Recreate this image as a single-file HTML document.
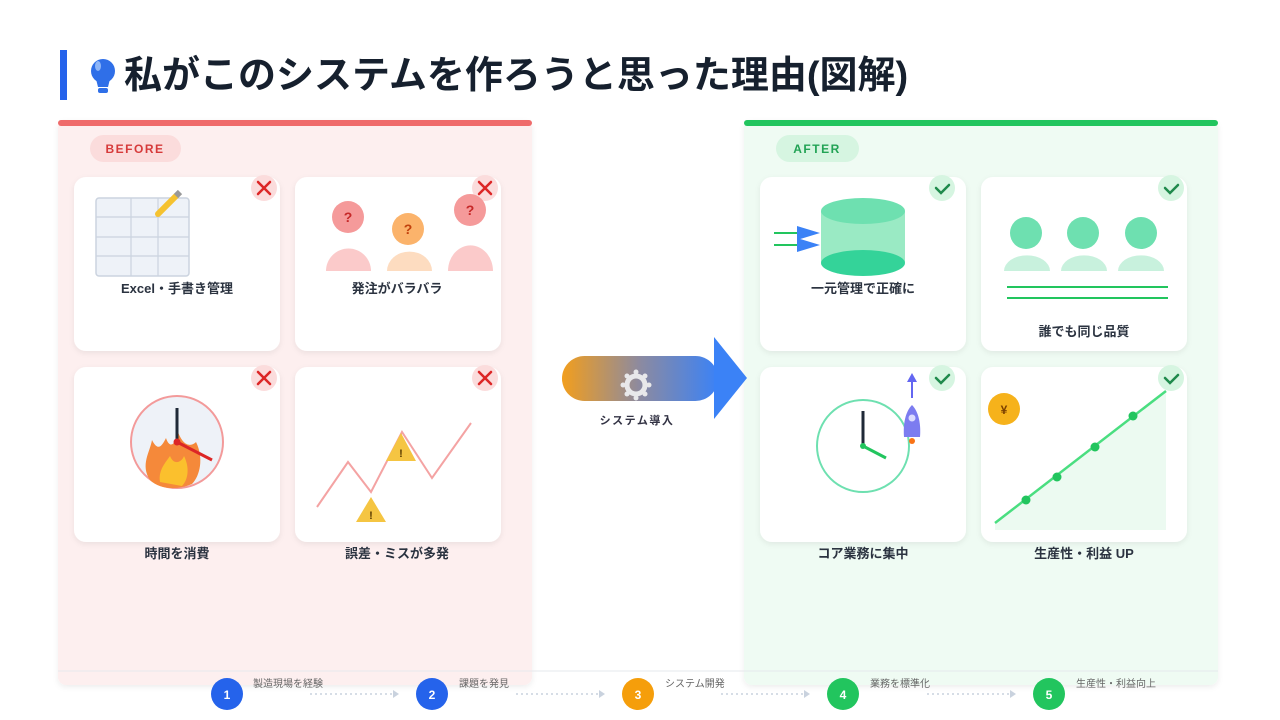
<!DOCTYPE html>
<html><head><meta charset="utf-8"><style>
html,body{margin:0;padding:0;background:#fff;}
svg{display:block;font-family:"Liberation Sans","Noto Sans CJK JP",sans-serif;}
</style></head><body>
<svg width="1280" height="720" viewBox="0 0 1280 720">
<defs>
<linearGradient id="g" x1="0" x2="1"><stop offset="0" stop-color="#f29e1d"/><stop offset="0.5" stop-color="#8c8aa0"/><stop offset="1" stop-color="#3b82f6"/></linearGradient>
<filter id="sh" x="-10%" y="-10%" width="120%" height="130%"><feDropShadow dx="0" dy="2" stdDeviation="3" flood-color="#000" flood-opacity="0.07"/></filter>
</defs>
<rect width="1280" height="720" fill="#fff"/>
<!-- title -->
<rect x="60" y="50" width="7" height="50" fill="#2563eb"/>
<circle cx="103" cy="71" r="12" fill="#2f6fe8"/>
<path d="M96 79 L110 79 L108 87 L98 87 Z" fill="#2f6fe8"/>
<rect x="98" y="88" width="10" height="5" rx="2" fill="#2f6fe8"/>
<ellipse cx="98" cy="66" rx="3" ry="5" fill="#8fb6f7"/>
<text x="124" y="88" font-size="38" font-weight="bold" fill="#16202e">私がこのシステムを作ろうと思った理由(図解)</text>

<!-- BEFORE panel -->
<rect x="58" y="120" width="474" height="565" rx="8" fill="#fdefef" filter="url(#sh)"/>
<rect x="58" y="120" width="474" height="6" rx="3" fill="#ef6b6b"/>
<rect x="90" y="135" width="91" height="27" rx="13.5" fill="#fbdcdc"/>
<text x="135" y="153" font-size="12" font-weight="bold" fill="#d63a3a" text-anchor="middle" letter-spacing="1.5">BEFORE</text>
<g filter="url(#sh)">
<rect x="74" y="177" width="206" height="174" rx="12" fill="#fff"/>
<rect x="295" y="177" width="206" height="174" rx="12" fill="#fff"/>
<rect x="74" y="367" width="206" height="175" rx="12" fill="#fff"/>
<rect x="295" y="367" width="206" height="175" rx="12" fill="#fff"/>
</g>
<g>
<circle cx="264" cy="188" r="13" fill="#fbdcdc"/><circle cx="485" cy="188" r="13" fill="#fbdcdc"/>
<circle cx="264" cy="378" r="13" fill="#fbdcdc"/><circle cx="485" cy="378" r="13" fill="#fbdcdc"/>
</g>
<g stroke="#dc2626" stroke-width="2.5" stroke-linecap="round">
<path d="M258 182l12 12M270 182l-12 12"/><path d="M479 182l12 12M491 182l-12 12"/>
<path d="M258 372l12 12M270 372l-12 12"/><path d="M479 372l12 12M491 372l-12 12"/>
</g>
<!-- spreadsheet -->
<rect x="96" y="198" width="93" height="78" rx="3" fill="#eef2f8" stroke="#cbd3df" stroke-width="1.5"/>
<g stroke="#cbd3df" stroke-width="1.2"><path d="M96 217H189M96 237H189M96 256H189M131 198V276M158 198V276"/></g>
<path d="M158 214 L176 196" stroke="#f5c230" stroke-width="6" stroke-linecap="round"/>
<path d="M176 196 L180 192" stroke="#999" stroke-width="6"/>
<text x="177" y="293" font-size="13" font-weight="bold" fill="#2b3340" text-anchor="middle">Excel・手書き管理</text>
<!-- people -->
<g>
<path d="M326 271 A22 22 0 0 1 371 271 Z" fill="#fbcaca"/>
<path d="M387 271 A22 19 0 0 1 432 271 Z" fill="#fddcc0"/>
<path d="M448 271 A22 25 0 0 1 493 271 Z" fill="#fbcaca"/>
<circle cx="348" cy="217" r="16" fill="#f59a9a"/><circle cx="408" cy="229" r="16" fill="#fbb36b"/><circle cx="470" cy="210" r="16" fill="#f59a9a"/>
<g font-size="14" font-weight="bold" fill="#c2410c" text-anchor="middle"><text x="348" y="222" fill="#c62828">?</text><text x="408" y="234">?</text><text x="470" y="215" fill="#c62828">?</text></g>
</g>
<text x="397" y="293" font-size="13" font-weight="bold" fill="#2b3340" text-anchor="middle">発注がバラバラ</text>
<!-- clock fire -->
<circle cx="177" cy="442" r="46" fill="#eef2f8" stroke="#f39a9a" stroke-width="2"/>
<path d="M150 480 C140 465 150 452 152 440 C158 452 162 446 166 438 C170 450 176 444 178 432 C184 448 192 446 196 442 C204 458 200 476 192 484 C178 490 160 490 150 480Z" fill="#f5893a"/>
<path d="M160 482 C158 470 166 462 170 456 C174 466 182 462 184 456 C190 468 188 480 182 486 Z" fill="#fbc02d"/>
<path d="M177 408 V442" stroke="#1f2937" stroke-width="3"/>
<path d="M177 442 L212 460" stroke="#dc2626" stroke-width="3"/>
<circle cx="177" cy="442" r="3.5" fill="#dc2626"/>
<text x="177" y="558" font-size="13" font-weight="bold" fill="#2b3340" text-anchor="middle">時間を消費</text>
<!-- zigzag -->
<polyline points="317,507 348,462 371,492 402,432 432,478 471,423" fill="none" stroke="#f4a3a3" stroke-width="2"/>
<path d="M401 433 L416 461 L386 461 Z" fill="#f5c542"/><text x="401" y="457" font-size="11" font-weight="bold" fill="#5a3b00" text-anchor="middle">!</text>
<path d="M371 497 L386 522 L356 522 Z" fill="#f5c542"/><text x="371" y="519" font-size="11" font-weight="bold" fill="#5a3b00" text-anchor="middle">!</text>
<text x="397" y="558" font-size="13" font-weight="bold" fill="#2b3340" text-anchor="middle">誤差・ミスが多発</text>

<!-- AFTER panel -->
<rect x="744" y="120" width="474" height="565" rx="8" fill="#effbf3" filter="url(#sh)"/>
<rect x="744" y="120" width="474" height="6" rx="3" fill="#22c55e"/>
<rect x="776" y="135" width="83" height="27" rx="13.5" fill="#d6f5e1"/>
<text x="817" y="153" font-size="12" font-weight="bold" fill="#22a355" text-anchor="middle" letter-spacing="1.5">AFTER</text>
<g filter="url(#sh)">
<rect x="760" y="177" width="206" height="174" rx="12" fill="#fff"/>
<rect x="981" y="177" width="206" height="174" rx="12" fill="#fff"/>
<rect x="760" y="367" width="206" height="175" rx="12" fill="#fff"/>
<rect x="981" y="367" width="206" height="175" rx="12" fill="#fff"/>
</g>
<g fill="#d6f5e1"><circle cx="942" cy="188" r="13"/><circle cx="1171" cy="188" r="13"/><circle cx="942" cy="378" r="13"/><circle cx="1171" cy="378" r="13"/></g>
<g stroke="#1f8a4c" stroke-width="2.5" fill="none" stroke-linecap="round"><path d="M936 188l5 5 8-8"/><path d="M1165 188l5 5 8-8"/><path d="M936 378l5 5 8-8"/><path d="M1165 378l5 5 8-8"/></g>
<!-- db -->
<rect x="821" y="211" width="84" height="52" fill="#9aeac4"/>
<ellipse cx="863" cy="263" rx="42" ry="13" fill="#34d399"/>
<ellipse cx="863" cy="211" rx="42" ry="13" fill="#6ee0b0"/>
<path d="M774 233H800M774 245H800" stroke="#22c55e" stroke-width="2"/>
<path d="M797 226L820 233L797 240Z M797 238L820 245L797 252Z" fill="#3b82f6"/>
<text x="863" y="293" font-size="13" font-weight="bold" fill="#2b3340" text-anchor="middle">一元管理で正確に</text>
<!-- people green -->
<g fill="#6ee0b0"><circle cx="1026" cy="233" r="16"/><circle cx="1083" cy="233" r="16"/><circle cx="1141" cy="233" r="16"/></g>
<g fill="#c8f1dd"><path d="M1004 271 A22 15 0 0 1 1050 271Z"/><path d="M1061 271 A22 15 0 0 1 1107 271Z"/><path d="M1118 271 A22 15 0 0 1 1164 271Z"/></g>
<path d="M1007 287H1168M1007 298H1168" stroke="#22c55e" stroke-width="2"/>
<text x="1084" y="336" font-size="13" font-weight="bold" fill="#2b3340" text-anchor="middle">誰でも同じ品質</text>
<!-- clock green + rocket -->
<circle cx="863" cy="446" r="46" fill="#fff" stroke="#6ee0b0" stroke-width="2"/>
<path d="M863 411V446" stroke="#1f2937" stroke-width="3"/>
<path d="M863 446L886 458" stroke="#22c55e" stroke-width="3"/>
<circle cx="863" cy="446" r="3" fill="#22c55e"/>
<path d="M912 398V378" stroke="#6366f1" stroke-width="2"/><path d="M907 382L912 373L917 382Z" fill="#6366f1"/>
<path d="M912 405 C905 412 903 425 904 437 L920 437 C921 425 919 412 912 405Z" fill="#7c7cf0"/>
<circle cx="912" cy="418" r="3.5" fill="#dcdcff"/><circle cx="912" cy="441" r="3" fill="#f97316"/>
<text x="863" y="558" font-size="13" font-weight="bold" fill="#2b3340" text-anchor="middle">コア業務に集中</text>
<!-- chart -->
<path d="M995 523 L1166 391 V530 H995Z" fill="#ecfaf1"/>
<path d="M995 523 L1166 391" stroke="#4ade80" stroke-width="2.5"/>
<g fill="#22c55e"><circle cx="1026" cy="500" r="4.5"/><circle cx="1057" cy="477" r="4.5"/><circle cx="1095" cy="447" r="4.5"/><circle cx="1133" cy="416" r="4.5"/></g>
<circle cx="1004" cy="409" r="16" fill="#f6b21b"/><text x="1004" y="414" font-size="12" font-weight="bold" fill="#7a3f00" text-anchor="middle">¥</text>
<text x="1084" y="558" font-size="13" font-weight="bold" fill="#2b3340" text-anchor="middle">生産性・利益 UP</text>

<!-- middle arrow -->
<rect x="562" y="356" width="156" height="45" rx="22.5" fill="url(#g)"/>
<path d="M714 337 L747 378 L714 419Z" fill="#3b82f6"/>
<circle cx="636" cy="385" r="9" fill="none" stroke="#e8e8ea" stroke-width="5"/>
<g fill="#e8e8ea"><circle cx="636" cy="372" r="2.5"/><circle cx="636" cy="398" r="2.5"/><circle cx="623" cy="385" r="2.5"/><circle cx="649" cy="385" r="2.5"/><circle cx="627" cy="376" r="2.5"/><circle cx="645" cy="394" r="2.5"/><circle cx="645" cy="376" r="2.5"/><circle cx="627" cy="394" r="2.5"/></g>
<text x="637" y="424" font-size="11" font-weight="bold" fill="#334" text-anchor="middle" letter-spacing="1.5">システム導入</text>

<!-- timeline -->
<path d="M58 671H1218" stroke="#e6e8ec" stroke-width="1"/>
<g stroke="#c9d2de" stroke-width="1.5" stroke-dasharray="2 3"><path d="M310 694H392M516 694H598M721 694H803M927 694H1009"/></g>
<g fill="#c9d2de"><path d="M393 690L399 694L393 698Z"/><path d="M599 690L605 694L599 698Z"/><path d="M804 690L810 694L804 698Z"/><path d="M1010 690L1016 694L1010 698Z"/></g>
<circle cx="227" cy="694" r="16" fill="#2563eb"/><circle cx="432" cy="694" r="16" fill="#2563eb"/><circle cx="638" cy="694" r="16" fill="#f59e0b"/><circle cx="843" cy="694" r="16" fill="#22c55e"/><circle cx="1049" cy="694" r="16" fill="#22c55e"/>
<g font-size="12" font-weight="bold" fill="#fff" text-anchor="middle"><text x="227" y="699">1</text><text x="432" y="699">2</text><text x="638" y="699">3</text><text x="843" y="699">4</text><text x="1049" y="699">5</text></g>
<g font-size="10" fill="#666"><text x="253" y="687">製造現場を経験</text><text x="459" y="687">課題を発見</text><text x="665" y="687">システム開発</text><text x="870" y="687">業務を標準化</text><text x="1076" y="687">生産性・利益向上</text></g>
</svg>
</body></html>
